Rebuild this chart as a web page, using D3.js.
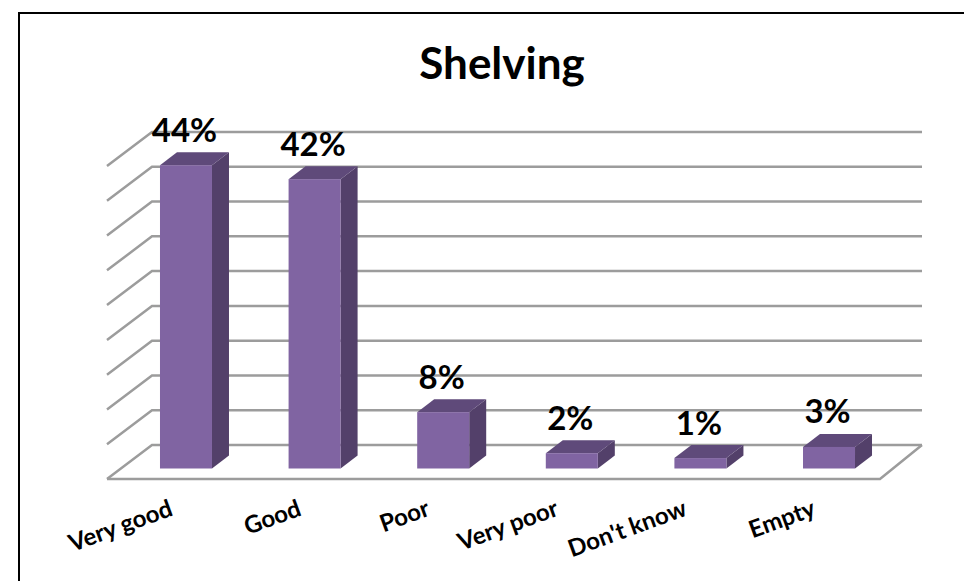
<!DOCTYPE html>
<html><head><meta charset="utf-8">
<script src="https://cdn.jsdelivr.net/npm/d3@7/dist/d3.min.js"></script>
<style>html,body{margin:0;padding:0;background:#fff}svg{display:block}text{font-family:Lato,"Open Sans",sans-serif;font-weight:700;fill:#000}</style>
</head><body><svg id="c" width="964" height="581"></svg>
<script>
const categories = ["Very good","Good","Poor","Very poor","Don't know","Empty"];
const values = [43.6,41.6,8.1,2.2,1.5,3.1];
const valueLabels = ["44%","42%","8%","2%","1%","3%"];
const gridTicks = [0,5,10,15,20,25,30,35,40,45];
const chartTitle = "Shelving";

const svg = d3.select("#c");
svg.append("path").attr("d","M19,581V13H964").attr("fill","none").attr("stroke","#000").attr("stroke-width",2);
svg.append("text").attr("x",502).attr("y",79).attr("text-anchor","middle").attr("font-size",44).text(chartTitle);

const depthX = 45, depthY = 34;
const yBack = d3.scaleLinear().domain([0,45]).range([445,132]);
const yFront = d3.scaleLinear().domain([0,45]).range([468.5,155.5]);
const x = d3.scaleBand().domain(categories).range([121.4,893.6]).paddingInner(0.5956).paddingOuter(0.3);
const gridColor = "#9c9c9c";
const grid = svg.append("g").attr("fill","none").attr("stroke",gridColor).attr("stroke-width",2.5);
grid.selectAll("path").data(gridTicks).join("path")
  .attr("d",t=>`M107,${yBack(t)+depthY}L${107+depthX},${yBack(t)}H922`);
grid.append("path").attr("d",`M107,479H880L922,445`);

const bw = x.bandwidth(), dx=17, dy=13;
const bars = svg.append("g").selectAll("g").data(categories).join("g");
bars.each(function(c,i){
  const g=d3.select(this), x0=x(c), x1=x0+bw, b=yFront(0), t=yFront(values[i]);
  g.append("path").attr("fill","#53406a").attr("d",`M${x1},${t}L${x1+dx},${t-dy}V${b-dy}L${x1},${b}Z`);
  g.append("path").attr("fill","#5f4a7a").attr("d",`M${x0},${t}L${x0+dx},${t-dy}H${x1+dx}L${x1},${t}Z`);
  g.append("rect").attr("x",x0).attr("y",t).attr("width",bw).attr("height",b-t).attr("fill","#8064a2");
  svg.append("text").attr("x",x0+bw/2-1.5).attr("y",t-dy-10.5).attr("text-anchor","middle").attr("font-size",33).text(valueLabels[i]);
  svg.append("text").attr("transform",`translate(${x1-38},${515}) rotate(-20)`).attr("text-anchor","end").attr("font-size",24).text(c);
});
</script></body></html>
